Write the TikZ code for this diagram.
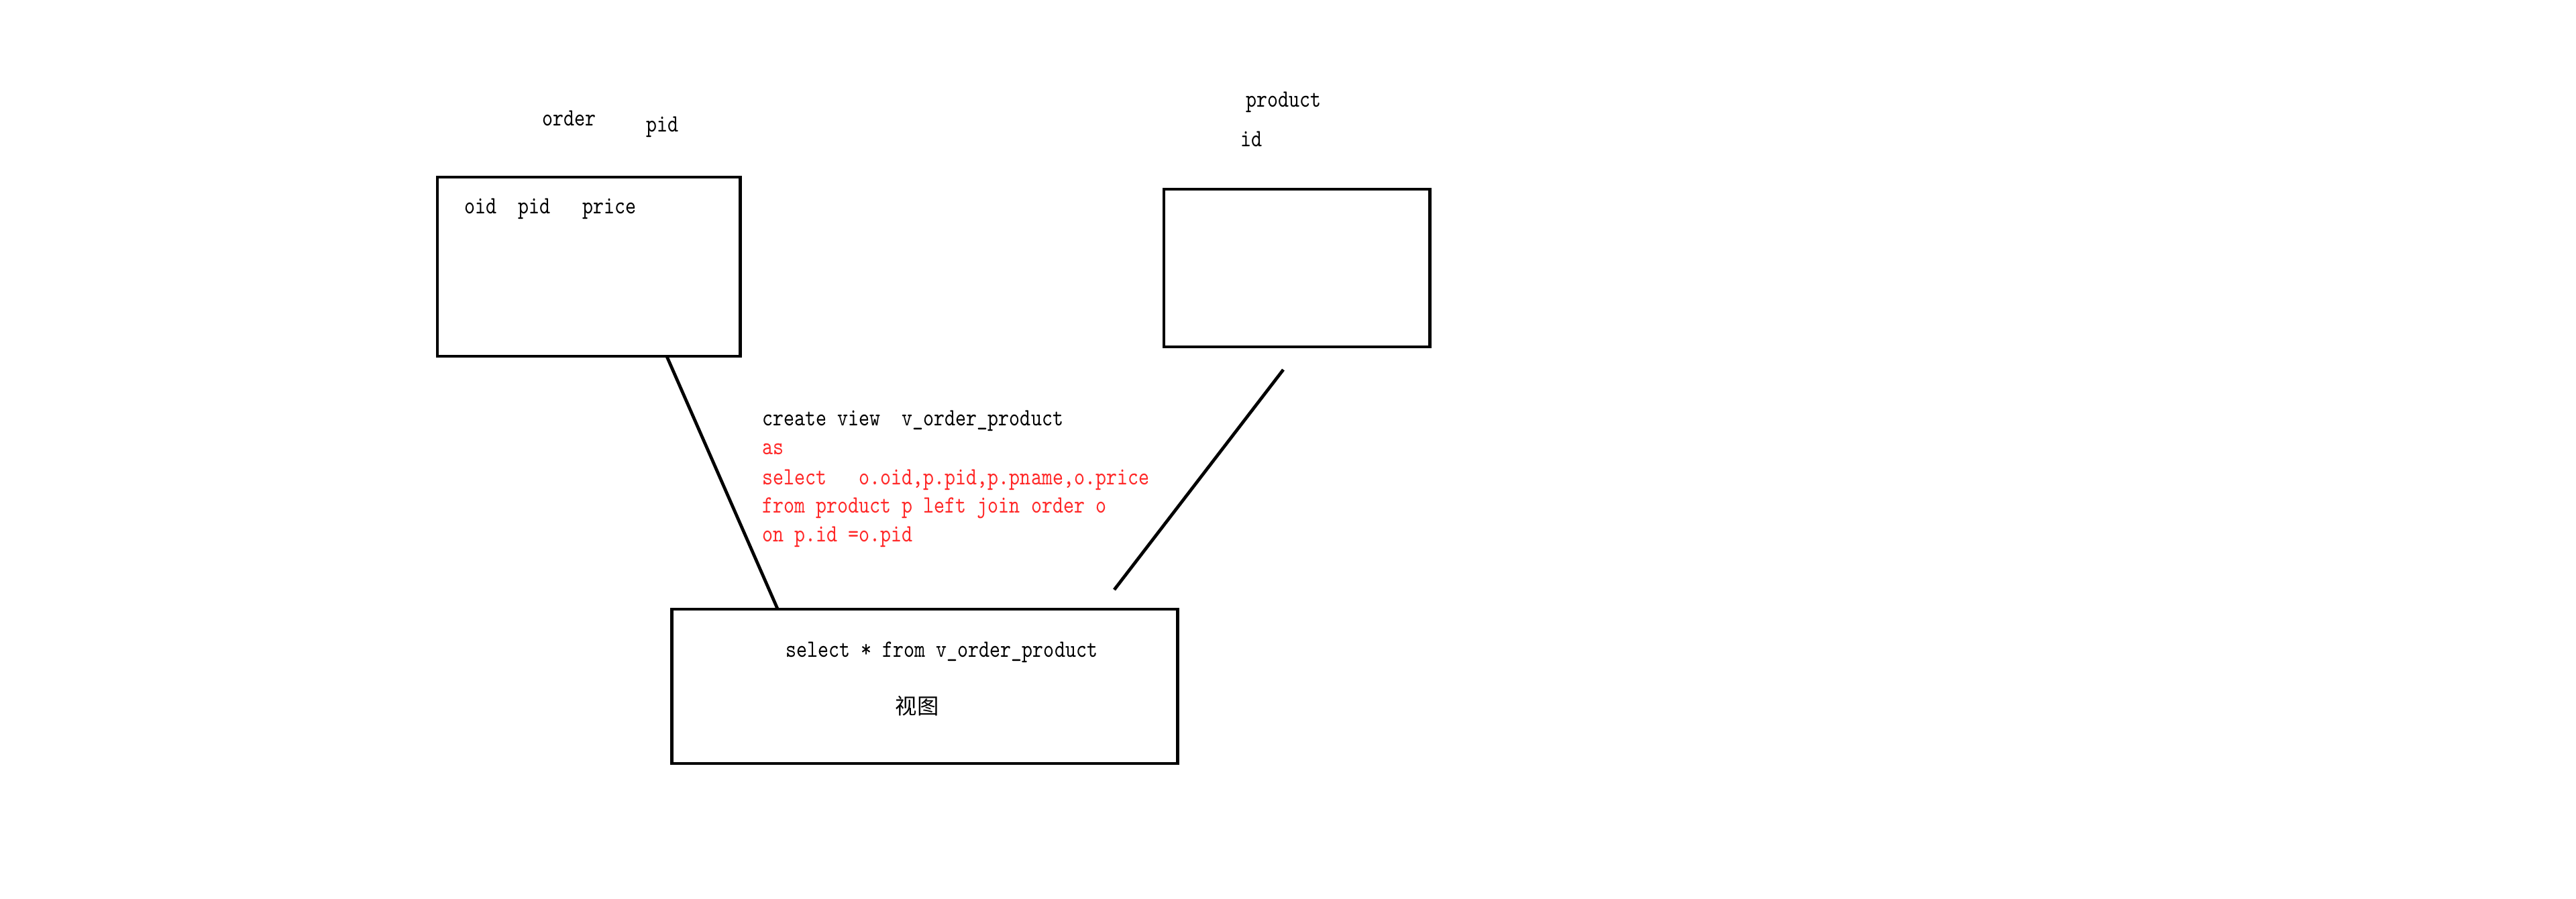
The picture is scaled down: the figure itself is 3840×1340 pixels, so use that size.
\documentclass[tikz,border=0pt]{standalone}
\usepackage{fontspec}
\newfontfamily\sqlfont[FakeStretch=0.826]{lmmono10-regular.otf}
\newfontfamily\cjk{Noto Sans CJK SC}
\usetikzlibrary{positioning}
\usetikzlibrary{calc}
\definecolor{sqlred}{RGB}{255,40,40}

\begin{document}
\begin{tikzpicture}
  [x=0.01cm,y=-0.01cm,
  tablebox/.style={rectangle,draw=black,line width=1.35pt,inner sep=0pt,outer sep=0pt},
  txt/.style={inner sep=0pt,anchor=base west,font=\sqlfont\fontsize{10.5}{12}\selectfont},
  redtxt/.style={txt,text=sqlred},
  link/.style={black,line width=1.35pt}]
  \useasboundingbox (0,0) rectangle (3840,1340);

  \node[tablebox,minimum width=4.51cm,minimum height=2.67cm] (order) at (877.5,397.5) {};
  \node[tablebox,minimum width=3.96cm,minimum height=2.35cm] (product) at (1933,399.5) {};
  \node[tablebox,minimum width=7.53cm,minimum height=2.30cm] (view) at (1378.5,1023) {};

  \node[txt] (ordername) at (808,188) {order};
  \node[txt] (orderkey) at (963,197) {pid};
  \node[txt] (ordercols) at (692,319) {oid~~pid~~~price};

  \node[txt] (productname) at (1857,160) {product};
  \node[txt] (productkey) at (1849,219) {id};

  \node[txt] (sql1) at (1136,635) {create view~~v\_order\_product};
  \node[redtxt] (sql2) at (1136,678) {as};
  \node[redtxt] (sql3) at (1136,722) {select~~~o.oid,p.pid,p.pname,o.price};
  \node[redtxt] (sql4) at (1136,764) {from product p left join order o};
  \node[redtxt] (sql5) at (1136,807) {on p.id =o.pid};

  \node[txt] (query) at (1171,979) {select * from v\_order\_product};
  \node[inner sep=0pt,anchor=base west,font=\cjk\fontsize{9.2}{11}\selectfont] (viewname) at (1334,1064) {视图};

  \coordinate (p1) at (1913,551);
  \coordinate (v1) at (1661,879);

  \draw [link] ($(order.south west)!0.758!(order.south east)$) -- ($(view.north west)!0.209!(view.north east)$);
  \draw [link] (p1) -- (v1);

  \end{tikzpicture}
\end{document}
